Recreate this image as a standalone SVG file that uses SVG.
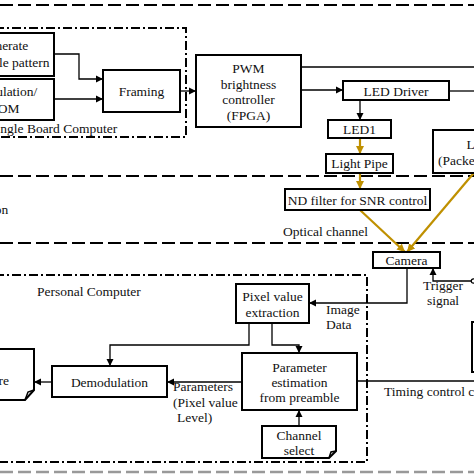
<svg xmlns="http://www.w3.org/2000/svg" width="474" height="474" viewBox="0 0 474 474">
<style>
.box{fill:#fff;stroke:#000;stroke-width:2}
.t{font-family:"Liberation Serif",serif;font-size:13.5px;fill:#111;text-anchor:middle}
.ts{font-family:"Liberation Serif",serif;font-size:13.5px;fill:#111}
.ln{fill:none;stroke:#000;stroke-width:1.3}
.gold{fill:none;stroke:#bf9000;stroke-width:2.2}
.dash{fill:none;stroke:#000;stroke-width:2;stroke-dasharray:13 5}
.dd{fill:none;stroke:#000;stroke-width:2;stroke-dasharray:9 3 2 3}
</style>
<defs>
<marker id="ah" markerWidth="8" markerHeight="8" refX="7" refY="4" orient="auto" markerUnits="userSpaceOnUse"><path d="M0,0.5 L7,4 L0,7.5 Z" fill="#000"/></marker>
<marker id="ag" markerWidth="9" markerHeight="9" refX="8" refY="4.5" orient="auto" markerUnits="userSpaceOnUse"><path d="M0,0.5 L8,4.5 L0,8.5 Z" fill="#bf9000"/></marker>
</defs>
<rect width="474" height="474" fill="#fff"/>
<g id="regions">
<line class="dash" x1="0" y1="5" x2="474" y2="5"/>
<line class="dash" x1="0" y1="176" x2="474" y2="176"/>
<line class="dash" x1="0" y1="243" x2="474" y2="243"/>
<line x1="0" y1="472" x2="474" y2="472" stroke="#999" stroke-width="2.5" stroke-dasharray="13 5"/>
<path class="dd" d="M-5,28 H186 V137 H-5"/>
<path class="dd" d="M-5,275 H367 V462 H-5"/>
<text class="ts" x="-11" y="133">Single Board Computer</text>
<text class="ts" x="37" y="296">Personal Computer</text>
<text class="t" x="-28" y="214">Transmission</text>
<text class="ts" x="283" y="236">Optical channel</text>
</g>
<g id="connectors">
<path class="ln" d="M54,54 H79 V79 H103" marker-end="url(#ah)"/>
<path class="ln" d="M54,99 H103" marker-end="url(#ah)"/>
<path class="ln" d="M180,91 H196" marker-end="url(#ah)"/>
<path class="ln" d="M301,67 H474"/>
<path class="ln" d="M301,90 H343" marker-end="url(#ah)"/>
<path class="ln" d="M449,91 H474"/>
<path class="ln" d="M360,100 V120" marker-end="url(#ah)"/>
<path class="gold" d="M360,138 V154" marker-end="url(#ag)"/>
<path class="gold" d="M360,173 V189" marker-end="url(#ag)"/>
<path class="gold" d="M360,210 L405,252" marker-end="url(#ag)"/>
<path class="gold" d="M478,168 L407,252" marker-end="url(#ag)"/>
<path class="ln" d="M472,281 H433 V268" marker-end="url(#ah)"/>
<circle cx="473.5" cy="281" r="2.2" fill="#fff" stroke="#000" stroke-width="1.2"/>
<path class="ln" d="M407,268 V303 H309" marker-end="url(#ah)"/>
<path class="ln" d="M249,323 V345 H110 V366" marker-end="url(#ah)"/>
<path class="ln" d="M272,323 V345 H299 V353" marker-end="url(#ah)"/>
<path class="ln" d="M299,426 V410" marker-end="url(#ah)"/>
<path class="ln" d="M242,382 H167" marker-end="url(#ah)"/>
<path class="ln" d="M52,382 H34" marker-end="url(#ah)"/>
<path class="ln" d="M357,381 H474"/>
<text class="t" x="443" y="290">Trigger</text>
<text class="t" x="443" y="305">signal</text>
<text class="ts" x="326" y="314">Image</text>
<text class="ts" x="326" y="329">Data</text>
<text class="ts" x="173" y="391">Parameters</text>
<text class="ts" x="173" y="407">(Pixel value</text>
<text class="ts" x="177" y="422">Level)</text>
<text class="ts" x="384" y="396">Timing control circuit</text>
</g>
<g id="gen"><rect class="box" x="-46" y="33" width="100" height="43"/><text class="t" x="4" y="50">Generate</text><text class="t" x="4" y="67">preamble pattern</text></g>
<g id="mod"><rect class="box" x="-46" y="79" width="100" height="41"/><text class="t" x="4" y="96">Modulation/</text><text class="t" x="4" y="113">ROM</text></g>
<g id="framing"><rect class="box" x="103" y="70" width="77" height="42"/><text class="t" x="141.5" y="96">Framing</text></g>
<g id="pwm"><rect class="box" x="196" y="55" width="105" height="72"/><text class="t" x="248.5" y="73">PWM</text><text class="t" x="248.5" y="89">brightness</text><text class="t" x="248.5" y="104">controller</text><text class="t" x="248.5" y="120">(FPGA)</text></g>
<g id="leddriver"><rect class="box" x="343" y="81" width="106" height="19"/><text class="t" x="396" y="96">LED Driver</text></g>
<g id="led1"><rect class="box" x="328" y="120" width="63" height="18"/><text class="t" x="359.5" y="134">LED1</text></g>
<g id="lightpipe"><rect class="box" x="326" y="154" width="67" height="19"/><text class="t" x="359.5" y="168">Light Pipe</text></g>
<g id="led2"><rect class="box" x="433" y="130" width="60" height="43"/><text class="t" x="483" y="149">LED2</text><text class="ts" x="438" y="165">(Packet data)</text></g>
<g id="ndfilter"><rect class="box" x="285" y="189" width="145" height="21"/><text class="t" x="357.5" y="205">ND filter for SNR control</text></g>
<g id="camera"><rect class="box" x="373" y="252" width="67" height="16"/><text class="t" x="406.5" y="265">Camera</text></g>
<g id="timing"><rect class="box" x="472" y="322" width="20" height="50" stroke-width="3"/></g>
<g id="pixel"><rect class="box" x="236" y="284" width="73" height="39"/><text class="t" x="272.5" y="301">Pixel value</text><text class="t" x="272.5" y="317">extraction</text></g>
<g id="param"><rect class="box" x="242" y="353" width="115" height="57"/><text class="t" x="299.5" y="372">Parameter</text><text class="t" x="299.5" y="387">estimation</text><text class="t" x="299.5" y="402">from preamble</text></g>
<g id="channel"><path class="box" d="M262,426 H336 V451 L329,458 H262 Z"/><path d="M336,451 L331,452 L329,458" fill="none" stroke="#000" stroke-width="1.5"/><text class="t" x="299" y="440">Channel</text><text class="t" x="299" y="455">select</text></g>
<g id="demod"><rect class="box" x="52" y="366" width="115" height="31"/><text class="t" x="109.5" y="387">Demodulation</text></g>
<g id="store"><path class="box" d="M-40,349 H34 V390 L25,400 H-40 Z"/><path d="M34,390 L28,392 L25,400" fill="none" stroke="#000" stroke-width="1.5"/><text class="ts" x="9" y="385" text-anchor="end">Measure</text></g>
</svg>
